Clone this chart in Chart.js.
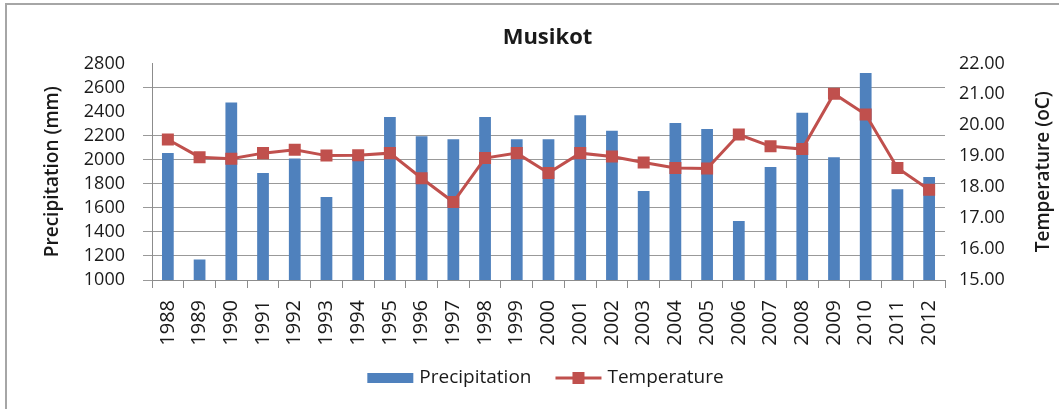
<!DOCTYPE html>
<html>
<head>
<meta charset="utf-8">
<script src="https://cdn.jsdelivr.net/npm/chart.js@4.4.0/dist/chart.umd.min.js"></script>
<style>
  html, body { margin: 0; padding: 0; background: #fff; }
  #wrap { width: 1059px; height: 409px; }
</style>
</head>
<body>
<div id="wrap"><canvas id="chart" width="1059" height="409"></canvas></div>
<script>
// data
const years = ['1988','1989','1990','1991','1992','1993','1994','1995','1996','1997','1998','1999','2000',
               '2001','2002','2003','2004','2005','2006','2007','2008','2009','2010','2011','2012'];
const precipitation = [2055, 1170, 2475, 1890, 2010, 1690, 2025, 2355, 2195, 2170, 2355, 2170, 2170,
                       2370, 2240, 1740, 2305, 2255, 1490, 1940, 2390, 2020, 2720, 1755, 1855];
const temperature = [19.54, 18.97, 18.92, 19.10, 19.21, 19.02, 19.03, 19.10, 18.29, 17.52, 18.94, 19.10, 18.46,
                     19.10, 18.99, 18.80, 18.62, 18.60, 19.70, 19.32, 19.23, 21.02, 20.35, 18.62, 17.92];
const precipTicks = [1000, 2800, 200];   // min, max, step
const tempTicks = [15, 22, 1];
const hiddenGrid = [2400, 2800];         // these grid lines are not visible in the original

const blue = '#4f81bd';
const red = '#c0504d';
const textColor = '#1a1a1a';
const fontFamily = '"Open Sans", sans-serif';

// outer frame (top and left edge only, as in the picture)
const framePlugin = {
    id: 'frame',
    beforeDraw(chart) {
        const ctx = chart.ctx;
        ctx.save();
        ctx.strokeStyle = '#a6a6a6';
        ctx.lineWidth = 2;
        ctx.beginPath();
        ctx.moveTo(6, 409);
        ctx.lineTo(6, 4);
        ctx.lineTo(1059, 4);
        ctx.stroke();
        ctx.restore();
    }
};

// right axis title reads bottom-to-top like the left one
const rightTitlePlugin = {
    id: 'rightTitle',
    afterDraw(chart) {
        const ctx = chart.ctx;
        const area = chart.chartArea;
        ctx.save();
        ctx.font = '600 19px ' + fontFamily;
        ctx.fillStyle = textColor;
        ctx.textAlign = 'center';
        ctx.textBaseline = 'middle';
        ctx.translate(chart.scales.y1.right - 10, (area.top + area.bottom) / 2);
        ctx.rotate(-Math.PI / 2);
        ctx.fillText('Temperature (oC)', 0, 0);
        ctx.restore();
    }
};

// legend with a line+square sample for the temperature series
const legendPlugin = {
    id: 'bottomLegend',
    afterDraw(chart) {
        const ctx = chart.ctx;
        ctx.save();
        ctx.font = '19px ' + fontFamily;
        ctx.textBaseline = 'middle';
        const sample = 46, gapText = 6, gapItem = 24;
        const t1 = 'Precipitation', t2 = 'Temperature';
        const w1 = ctx.measureText(t1).width, w2 = ctx.measureText(t2).width;
        const total = sample + gapText + w1 + gapItem + sample + gapText + w2;
        const cx = (chart.chartArea.left + chart.chartArea.right) / 2 - 3;
        const y = 378;
        let x = cx - total / 2;
        ctx.fillStyle = blue;
        ctx.fillRect(x, y - 5, sample, 10);
        x += sample + gapText;
        ctx.fillStyle = textColor;
        ctx.fillText(t1, x, y);
        x += w1 + gapItem;
        ctx.strokeStyle = red;
        ctx.lineWidth = 3;
        ctx.beginPath();
        ctx.moveTo(x, y);
        ctx.lineTo(x + sample, y);
        ctx.stroke();
        ctx.fillStyle = red;
        ctx.fillRect(x + sample / 2 - 6, y - 6, 12, 12);
        x += sample + gapText;
        ctx.fillStyle = textColor;
        ctx.fillText(t2, x, y);
        ctx.restore();
    }
};

const ctx = document.getElementById('chart').getContext('2d');
new Chart(ctx, {
    type: 'bar',
    data: {
        labels: years,
        datasets: [
            {
                type: 'line',
                label: 'Temperature',
                data: temperature,
                yAxisID: 'y1',
                borderColor: red,
                borderWidth: 3,
                backgroundColor: red,
                pointStyle: 'rect',
                pointRadius: 8.5,
                pointBackgroundColor: red,
                pointBorderColor: red,
                pointBorderWidth: 0,
                tension: 0,
                order: 0
            },
            {
                type: 'bar',
                label: 'Precipitation',
                data: precipitation,
                yAxisID: 'y',
                backgroundColor: blue,
                categoryPercentage: 1,
                barPercentage: 0.37,
                order: 1
            }
        ]
    },
    options: {
        responsive: false,
        animation: false,
        devicePixelRatio: 1,
        layout: { padding: { left: 41, right: 5, top: 0, bottom: 57 } },
        plugins: {
            legend: { display: false },
            tooltip: { enabled: false },
            title: {
                display: true,
                text: 'Musikot',
                color: textColor,
                font: { family: fontFamily, size: 22, weight: 'bold' },
                padding: { top: 25, bottom: 12 }
            }
        },
        scales: {
            x: {
                grid: { drawOnChartArea: false, color: '#8c8c8c', tickLength: 8, offset: true },
                border: { color: '#8c8c8c' },
                ticks: {
                    color: textColor,
                    font: { family: fontFamily, size: 20 },
                    minRotation: 90,
                    maxRotation: 90,
                    autoSkip: false,
                    padding: 12
                },
                afterFit(scale) { scale.height = 72; }
            },
            y: {
                position: 'left',
                min: precipTicks[0],
                max: precipTicks[1],
                ticks: {
                    stepSize: precipTicks[2],
                    autoSkip: false,
                    color: textColor,
                    font: { family: fontFamily, size: 18 },
                    padding: 18,
                    callback: (v) => String(v)
                },
                grid: {
                    color: (c) => hiddenGrid.includes(c.tick && c.tick.value) ? 'rgba(0,0,0,0)' : '#999999',
                    tickLength: 9
                },
                border: { color: '#8c8c8c' },
                title: {
                    display: true,
                    text: 'Precipitation (mm)',
                    color: textColor,
                    font: { family: fontFamily, size: 19, weight: '600' },
                    padding: 0
                },
                afterFit(scale) { scale.width = 111; }
            },
            y1: {
                position: 'right',
                min: tempTicks[0],
                max: tempTicks[1],
                ticks: {
                    stepSize: tempTicks[2],
                    autoSkip: false,
                    color: textColor,
                    font: { family: fontFamily, size: 18 },
                    padding: 14,
                    callback: (v) => Number(v).toFixed(2)
                },
                grid: { drawOnChartArea: false, tickLength: 0 },
                border: { display: false },
                afterFit(scale) { scale.width = 109; }
            }
        }
    },
    plugins: [framePlugin, rightTitlePlugin, legendPlugin]
});
</script>
</body>
</html>
